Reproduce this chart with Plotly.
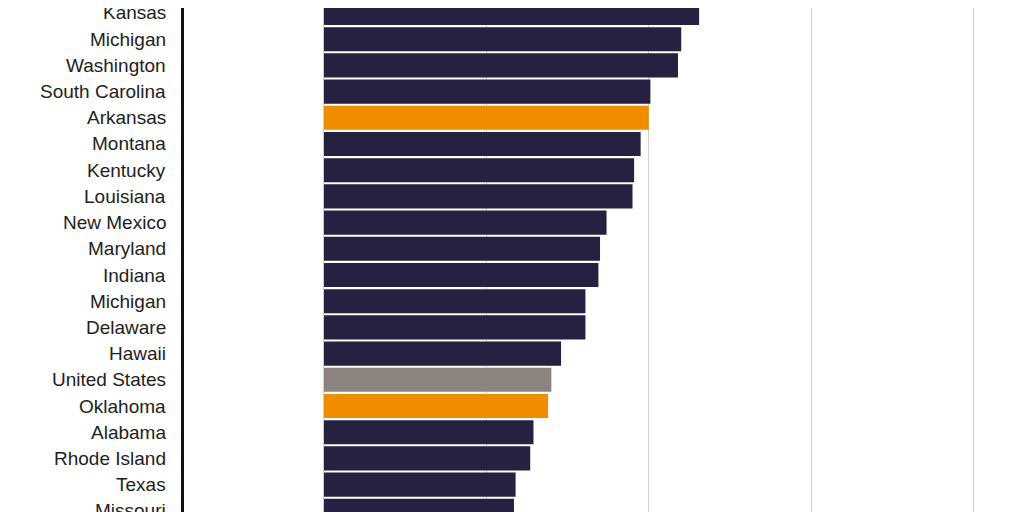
import plotly.graph_objects as go

states = ["Kansas","Michigan","Washington","South Carolina","Arkansas","Montana","Kentucky",
          "Louisiana","New Mexico","Maryland","Indiana","Michigan","Delaware","Hawaii",
          "United States","Oklahoma","Alabama","Rhode Island","Texas","Missouri"]
values = [23.1,22.0,21.8,20.1,20.0,19.5,19.1,19.0,17.4,17.0,16.9,16.1,16.1,14.6,14.0,13.8,12.9,12.7,11.8,11.7]

def color(s):
    if s in ("Arkansas","Oklahoma"):
        return "#F08C00"
    if s == "United States":
        return "#8C847E"
    return "#262140"

idx = list(range(len(states)))
fig = go.Figure(go.Bar(x=values, y=idx, orientation="h", marker_color=[color(s) for s in states],
                       marker_line_width=0, width=0.92))
for i, s in zip(idx, states):
    fig.add_annotation(x=0, xref="paper", y=i, yref="y", text=s, showarrow=False,
                       xanchor="right", xshift=-16, font=dict(size=19, color="#222"))
fig.update_layout(
    width=1024, height=512, margin=dict(l=176, r=0, t=0, b=0, autoexpand=False),
    plot_bgcolor="white", paper_bgcolor="white", showlegend=False,
    font=dict(family="Liberation Sans", size=19, color="#222"),
    xaxis=dict(range=[-8.62, 43.6], tickvals=[0,10,20,30,40], showticklabels=False,
               showgrid=True, gridcolor="#d0d0d0", gridwidth=1, zeroline=False),
    yaxis=dict(range=[19.35, -0.19], showticklabels=False, showgrid=False,
               showline=True, linecolor="#111", linewidth=3, zeroline=False),
)
fig.write_html("out.html")
